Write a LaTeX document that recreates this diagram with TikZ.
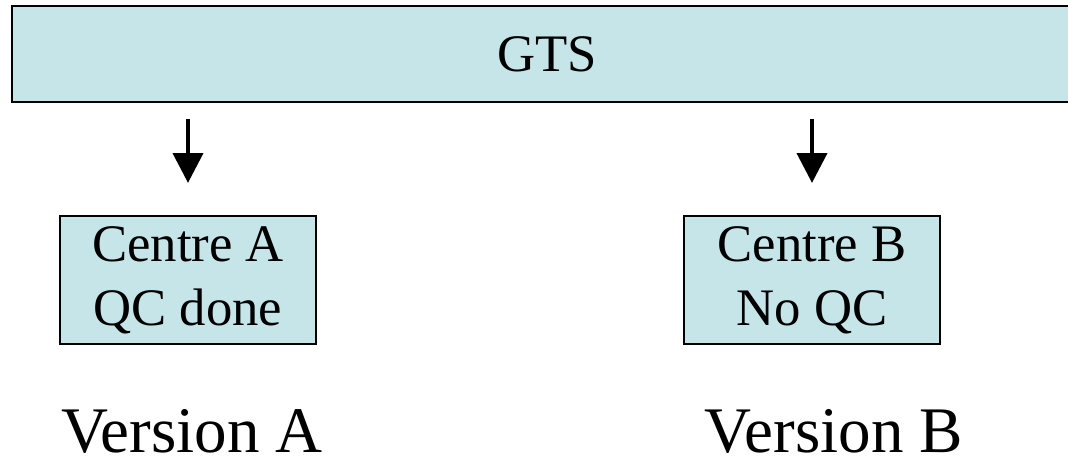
\documentclass[tikz,border=0pt]{standalone}
\usepackage{fontspec}
\setmainfont{Liberation Serif}
\usetikzlibrary{arrows.meta, positioning}
\definecolor{boxfill}{RGB}{198,229,233}

\begin{document}
\begin{tikzpicture}[
    font=\fontsize{15}{18.2}\selectfont,
    box/.style={draw=black, fill=boxfill, line width=0.6pt, align=center,
                inner sep=0pt},
    feed/.style={-{Triangle[width=8.5pt,length=8.5pt]}, line width=1.2pt,
                 shorten <=0.16cm, shorten >=0.32cm},
    version/.style={font=\fontsize{18.5}{21}\selectfont, anchor=base,
                    inner sep=0pt}
]
\useasboundingbox (0,0) rectangle (10.68,4.59);

% -- top bar ------------------------------------------------
\node[box, line width=0.75pt, minimum width=10.70cm, minimum height=0.96cm]
    (gts) at (5.47,4.05) {GTS};

% -- the two centres ----------------------------------------
\node[box, minimum width=2.56cm, minimum height=1.28cm] (ca) at (1.88,1.79)
    {Centre A\\QC done};
\node[box, minimum width=2.56cm, minimum height=1.28cm] (cb) at (8.12,1.79)
    {Centre B\\No QC};

% -- arrows down from the bar -------------------------------
\draw[feed] (gts.south -| ca.north) -- (ca.north);
\draw[feed] (gts.south -| cb.north) -- (cb.north);

% -- version labels -----------------------------------------
\node[version] (va) at (1.92,0.07) {Version A};
\node[version] (vb) at (8.34,0.07) {Version B};

\end{tikzpicture}
\end{document}
